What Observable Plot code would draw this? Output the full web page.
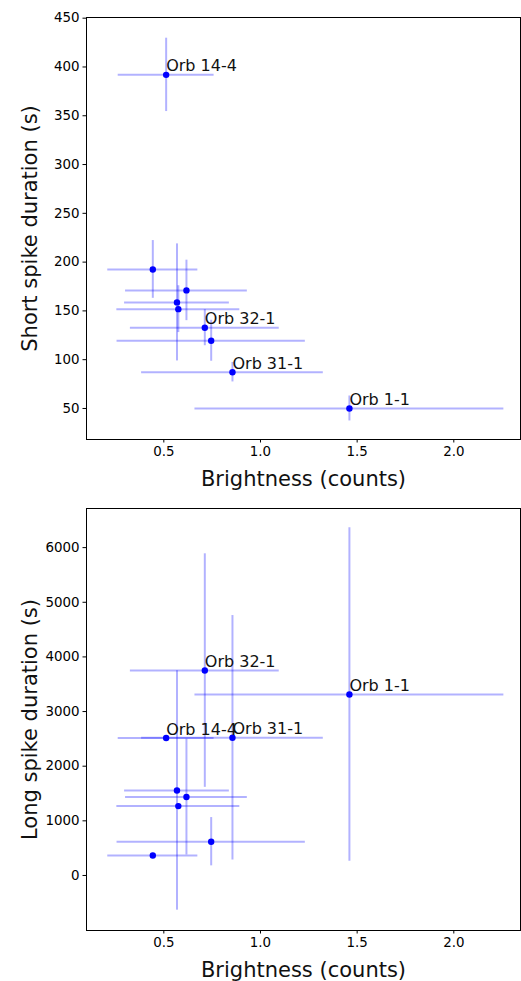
<!DOCTYPE html>
<html>
<head>
<meta charset="utf-8">
<script src="https://cdn.jsdelivr.net/npm/d3@7"></script>
<script src="https://cdn.jsdelivr.net/npm/@observablehq/plot@0.6"></script>
<style>
  html, body { margin: 0; padding: 0; background: white; }
  #chart svg { display: block; }
</style>
</head>
<body>
<div id="chart"></div>
<script>
const labels = ["", "", "", "", "Orb 32-1", "", "Orb 31-1", "Orb 1-1", "Orb 14-4"];
const brightness    = [0.443, 0.617, 0.568, 0.575, 0.712, 0.745, 0.855, 1.46, 0.512];
const brightnessErr = [0.233, 0.315, 0.271, 0.318, 0.385, 0.487, 0.470, 0.799, 0.248];
const shortDur = [192.5, 171, 158.7, 151.8, 132.8, 119.4, 87.2, 50, 391.9];
const shortErr = [29.6, 31, 60, 24, 18.5, 21, 10, 12.8, 37.6];
const longDur  = [366, 1436, 1556, 1270, 3750, 618, 2520, 3312, 2515];
const longErr  = [40, 1060, 2191, 40, 2137, 442, 2237, 3053, 40];
const xTicks = [0.5, 1.0, 1.5, 2.0];
const shortTicks = [50, 100, 150, 200, 250, 300, 350, 400, 450];
const longTicks = [0, 1000, 2000, 3000, 4000, 5000, 6000];
const xLabel = "Brightness (counts)";
const shortLabel = "Short spike duration (s)";
const longLabel = "Long spike duration (s)";

function panel(yVals, yErr, yDomain, yTicks, yLabel, height, marginTop, labelDy) {
  const data = brightness.map((b, i) => ({
    b, be: brightnessErr[i], v: yVals[i], ve: yErr[i], label: labels[i]
  }));
  return Plot.plot({
    width: 521,
    height,
    marginLeft: 86,
    marginRight: 1,
    marginTop,
    marginBottom: height - marginTop - 422,
    style: { fontFamily: "DejaVu Sans", fontSize: "13.4px", color: "black", background: "white" },
    x: { domain: [0.1, 2.345] },
    y: { domain: yDomain },
    marks: [
      Plot.ruleY(data, { y: "v", x1: d => d.b - d.be, x2: d => d.b + d.be, stroke: "blue", strokeOpacity: 0.3, strokeWidth: 2 }),
      Plot.ruleX(data, { x: "b", y1: d => d.v - d.ve, y2: d => d.v + d.ve, stroke: "blue", strokeOpacity: 0.3, strokeWidth: 2 }),
      Plot.dot(data, { x: "b", y: "v", r: 3.2, fill: "blue", stroke: "none" }),
      Plot.text(data.filter(d => d.label), { x: "b", y: "v", text: "label", textAnchor: "start", lineAnchor: "bottom", dy: -3.5, fontSize: 16, fill: "#111" }),
      Plot.frame({ stroke: "black", strokeWidth: 1 }),
      Plot.axisX({ ticks: xTicks, tickFormat: d3.format(".1f"), tickSize: 3.5, tickPadding: 3.5, label: null, fontSize: 13.4 }),
      Plot.axisY({ ticks: yTicks, tickFormat: d3.format("d"), tickSize: 3.5, tickPadding: 3.5, label: null, fontSize: 13.4 }),
      Plot.text([xLabel], { text: d => d, frameAnchor: "bottom", dy: labelDy, textAnchor: "middle", lineAnchor: "middle", fontSize: 21, fill: "#111" }),
      Plot.text([yLabel], { text: d => d, frameAnchor: "left", dx: -56, rotate: -90, textAnchor: "middle", lineAnchor: "middle", fontSize: 21, fill: "#111" })
    ]
  });
}

const chart = document.getElementById("chart");
chart.appendChild(panel(shortDur, shortErr, [18.2, 450.7], shortTicks, shortLabel, 490, 17, 39.5));
chart.appendChild(panel(longDur, longErr, [-1007, 6716], longTicks, longLabel, 491, 18, 40));
</script>
</body>
</html>
